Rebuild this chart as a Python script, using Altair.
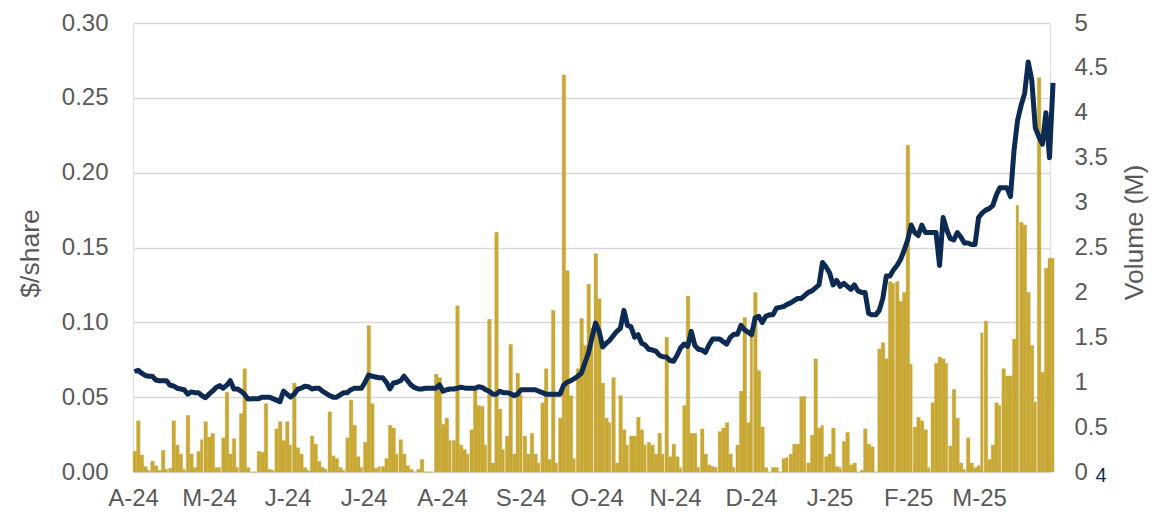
import altair as alt
import pandas as pd

# Daily volume (M shares), Mon-Fri, weeks starting Mon 1 Apr 2024
volume_m = [
    0.23, 0.57, 0.19, 0.06, 0.02,
    0.12, 0.07, 0.02, 0.24, 0.03,
    0.04, 0.57, 0.30, 0.20, 0.03,
    0.63, 0.20, 0.05, 0.23, 0.36,
    0.56, 0.39, 0.43, 0.05, 0.05,
    0.38, 0.89, 0.20, 0.37, 0.05,
    0.65, 1.15, 0.05, 0.00, 0.00,
    0.23, 0.22, 0.76, 0.03, 0.02,
    0.48, 0.56, 0.35, 0.56, 0.30,
    0.99, 0.27, 0.20, 0.05, 0.02,
    0.40, 0.31, 0.12, 0.05, 0.03,
    0.67, 0.18, 0.15, 0.05, 0.02,
    0.38, 0.80, 0.52, 0.17, 0.05,
    0.33, 1.63, 0.76, 0.04, 0.06,
    0.06, 0.15, 0.52, 0.49, 0.20,
    0.36, 0.20, 0.07, 0.03, 0.00,
    0.03, 0.14, 0.00, 0.00, 0.00,
    1.09, 1.05, 0.53, 0.60, 0.35,
    0.35, 1.85, 0.30, 0.25, 0.20,
    0.47, 0.92, 0.74, 0.73, 0.30,
    1.70, 0.10, 2.67, 0.70, 0.25,
    0.40, 1.42, 0.20, 1.10, 0.86,
    0.40, 0.20, 0.43, 0.20, 0.10,
    0.77, 1.15, 0.14, 1.80, 0.10,
    0.60, 4.42, 2.24, 0.85, 0.15,
    1.15, 1.71, 1.41, 2.09, 1.60,
    2.43, 1.93, 0.99, 0.60, 0.55,
    1.05, 0.10, 0.85, 0.47, 0.30,
    0.40, 0.40, 0.61, 0.47, 0.30,
    0.33, 0.30, 0.20, 0.43, 0.20,
    1.50, 0.17, 0.31, 0.17, 0.05,
    0.74, 1.96, 0.43, 0.43, 0.05,
    0.48, 0.20, 0.08, 0.06, 0.05,
    0.45, 0.49, 0.55, 0.20, 0.05,
    0.30, 0.90, 1.72, 0.55, 1.60,
    2.00, 1.13, 0.50, 0.05, 0.00,
    0.05, 0.05, 0.00, 0.15, 0.16,
    0.20, 0.31, 0.31, 0.84, 0.84,
    0.10, 0.41, 1.26, 0.49, 0.52,
    0.17, 0.20, 0.49, 0.06, 0.05,
    0.34, 0.44, 0.08, 0.10, 0.00,
    0.02, 0.48, 0.31, 0.28, 0.00,
    1.37, 1.44, 1.26, 2.12, 2.10,
    2.12, 1.90, 2.00, 3.64, 1.20,
    0.50, 0.61, 0.57, 0.47, 0.05,
    0.77, 1.21, 1.28, 1.26, 1.21,
    0.29, 0.92, 0.60, 0.10, 0.03,
    0.38, 0.10, 0.05, 0.07, 1.55,
    1.68, 0.14, 0.30, 0.77, 0.74,
    1.15, 1.07, 1.07, 1.48, 2.97,
    2.78, 2.75, 2.00, 1.41, 0.78,
    4.39, 1.11, 2.27, 2.38, 2.38,
]

# Daily closing price ($/share)
price = [
    0.067, 0.068, 0.066, 0.0645, 0.064,
    0.064, 0.0615, 0.061, 0.061, 0.061,
    0.058, 0.0575, 0.056, 0.0555, 0.055,
    0.052, 0.0535, 0.053, 0.053, 0.051,
    0.0496, 0.052, 0.054, 0.0565, 0.0577,
    0.056, 0.058, 0.061, 0.0555, 0.0555,
    0.054, 0.052, 0.0487, 0.049, 0.049,
    0.049, 0.050, 0.050, 0.050, 0.049,
    0.048, 0.047, 0.054, 0.052, 0.050,
    0.052, 0.0553, 0.056, 0.0573, 0.057,
    0.0555, 0.056, 0.056, 0.054, 0.0525,
    0.051, 0.050, 0.050, 0.0515, 0.053,
    0.053, 0.055, 0.056, 0.056, 0.056,
    0.060, 0.0648, 0.064, 0.0635, 0.063,
    0.063, 0.060, 0.0555, 0.0595, 0.060,
    0.061, 0.064, 0.061, 0.058, 0.0564,
    0.0555, 0.0555, 0.056, 0.056, 0.056,
    0.056, 0.0582, 0.054, 0.055, 0.0555,
    0.0555, 0.056, 0.0566, 0.0562, 0.056,
    0.056, 0.056, 0.057, 0.0565, 0.055,
    0.054, 0.052, 0.052, 0.054, 0.053,
    0.053, 0.0524, 0.051, 0.052, 0.055,
    0.055, 0.055, 0.055, 0.055, 0.054,
    0.053, 0.052, 0.052, 0.052, 0.052,
    0.052, 0.058, 0.060, 0.061, 0.0624,
    0.064, 0.066, 0.073, 0.0795, 0.090,
    0.0995, 0.094, 0.0835, 0.086, 0.088,
    0.091, 0.094, 0.096, 0.108, 0.098,
    0.097, 0.090, 0.0917, 0.086, 0.0848,
    0.082, 0.0815, 0.0808, 0.078, 0.077,
    0.0768, 0.0745, 0.074, 0.078, 0.083,
    0.0855, 0.084, 0.094, 0.0845, 0.082,
    0.0815, 0.080, 0.085, 0.0888, 0.0888,
    0.0888, 0.087, 0.0855, 0.090, 0.092,
    0.092, 0.098, 0.095, 0.0935, 0.0917,
    0.103, 0.104, 0.0998, 0.104, 0.105,
    0.105, 0.1095, 0.110, 0.1105, 0.112,
    0.113, 0.1145, 0.116, 0.116, 0.118,
    0.120, 0.121, 0.123, 0.125, 0.140,
    0.137, 0.133, 0.125, 0.128, 0.124,
    0.126, 0.124, 0.122, 0.125, 0.121,
    0.120, 0.120, 0.106, 0.105, 0.105,
    0.108, 0.116, 0.131, 0.131, 0.135,
    0.138, 0.142, 0.148, 0.155, 0.165,
    0.160, 0.158, 0.165, 0.160, 0.160,
    0.160, 0.160, 0.138, 0.170, 0.162,
    0.156, 0.155, 0.160, 0.157, 0.153,
    0.153, 0.152, 0.152, 0.170, 0.173,
    0.175, 0.176, 0.178, 0.185, 0.190,
    0.190, 0.190, 0.184, 0.215, 0.235,
    0.245, 0.253, 0.274, 0.262, 0.230,
    0.224, 0.219, 0.240, 0.210, 0.260,
]

first_day = "2024-04-01"
month_ticks = [(2024, m) for m in range(4, 13)] + [(2025, m) for m in range(1, 4)]
price_ticks = [0, 0.05, 0.10, 0.15, 0.20, 0.25, 0.30]
volume_ticks = [0, 0.5, 1, 1.5, 2, 2.5, 3, 3.5, 4, 4.5, 5]

GOLD = "#C9A935"
NAVY = "#0D2B52"
GREY = "#595959"
FONT = "Liberation Sans, Arial, sans-serif"
LABEL_SIZE = 24
TITLE_SIZE = 26.5

days = pd.bdate_range(first_day, periods=len(volume_m))
fmt = "%Y-%m-%dT%H:%M:%S"
rows = []
for d, v, p in zip(days, volume_m, price):
    wd = d.weekday()
    monday = d - pd.Timedelta(days=wd)
    start = monday + pd.Timedelta(days=1.4 * wd)
    end = start + pd.Timedelta(days=1.4 if wd < 4 else 1.0)
    mid = start + pd.Timedelta(days=0.6)
    rows.append({"start": start.strftime(fmt), "end": end.strftime(fmt),
                 "mid": mid.strftime(fmt), "vol": v, "price": p})
df = pd.DataFrame(rows)

xscale = alt.Scale(domain=[alt.DateTime(year=2024, month=4, date=1),
                           alt.DateTime(year=2025, month=3, date=29)])
xaxis = alt.Axis(values=[alt.DateTime(year=y, month=m, date=1) for y, m in month_ticks],
                 labelExpr="substring(timeFormat(datum.value, '%b'), 0, 1) + '-' + timeFormat(datum.value, '%y')",
                 ticks=False, domain=False, grid=False, labelPadding=14,
                 labelFontSize=LABEL_SIZE, labelColor=GREY, labelFont=FONT, title=None,
                 labelOverlap=False, labelFlush=False)

bars = alt.Chart(df).mark_bar(color=GOLD, stroke=GOLD, strokeWidth=0.35).encode(
    x=alt.X("start:T", scale=xscale, axis=xaxis),
    x2="end:T",
    y=alt.Y("vol:Q", scale=alt.Scale(domain=[0, 5]),
            axis=alt.Axis(orient="right", values=volume_ticks,
                          labelExpr="format(datum.value, '~g')", ticks=False, tickSize=0,
                          domain=False, grid=False, labelPadding=24,
                          labelFontSize=LABEL_SIZE, labelColor=GREY, labelFont=FONT,
                          title="Volume (M)", titleFont=FONT, titleFontSize=TITLE_SIZE,
                          titleFontWeight="normal", titleColor=GREY, titleAngle=-90,
                          titleX=84, titleY=209, titleAlign="center",
                          titleBaseline="middle")),
    y2=alt.datum(0),
)

line = alt.Chart(df).mark_line(color=NAVY, strokeWidth=5, strokeJoin="round").encode(
    x=alt.X("mid:T", scale=xscale, axis=xaxis),
    y=alt.Y("price:Q", scale=alt.Scale(domain=[0, 0.30]),
            axis=alt.Axis(orient="left", values=price_ticks,
                          format=".2f", ticks=False, tickSize=0, domain=False, grid=True,
                          gridColor="#D9D9D9", gridWidth=1.5, labelPadding=25,
                          labelFontSize=LABEL_SIZE, labelColor=GREY, labelFont=FONT,
                          title="$/share", titleFont=FONT, titleFontSize=TITLE_SIZE,
                          titleFontWeight="normal", titleColor=GREY, titleAngle=-90,
                          titleX=-103, titleY=230, titleAlign="center",
                          titleBaseline="middle")),
)

note = alt.Chart(pd.DataFrame({"t": ["4"]})).mark_text(
    color=NAVY, fontSize=20, font=FONT, align="center", baseline="middle"
).encode(x=alt.value(968), y=alt.value(453), text="t:N")

chart = alt.layer(bars, line, note).resolve_scale(y="independent").properties(
    width=917, height=449, autosize="none",
    padding={"left": 125, "top": 15, "right": 100, "bottom": 37},
).configure_view(stroke=None).configure(background="white")

chart.save("out.html", embed_options={"renderer": "svg", "actions": False})
